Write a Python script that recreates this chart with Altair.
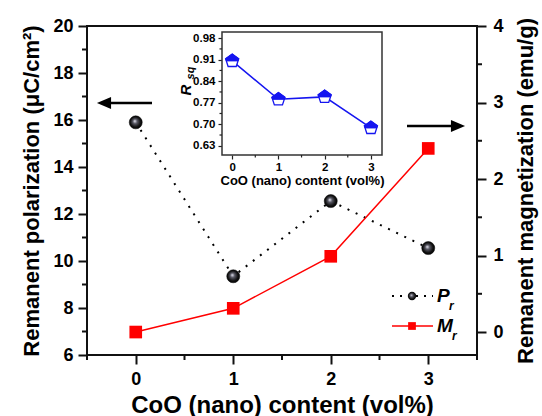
import altair as alt
import pandas as pd

# ---- data ----
coo = [0, 1, 2, 3]
pr = [15.9, 9.35, 12.55, 10.55]          # Remanent polarization (uC/cm2)
mr = [0.0, 0.31, 0.99, 2.40]             # Remanent magnetization (emu/g)
rsq = [0.906, 0.781, 0.789, 0.688]       # inset R_sq

x_ticks = [0, 1, 2, 3]
x_minor = [-0.5, 0.5, 1.5, 2.5, 3.5]
p_ticks = [6, 8, 10, 12, 14, 16, 18, 20]
p_minor = [7, 9, 11, 13, 15, 17, 19]
m_ticks = [0, 1, 2, 3, 4]
m_minor = [0.5, 1.5, 2.5, 3.5]
in_y_ticks = [0.63, 0.70, 0.77, 0.84, 0.91, 0.98]
in_y_minor = [0.665, 0.735, 0.805, 0.875, 0.945]
in_x_minor = [0.5, 1.5, 2.5]

FONT = "Liberation Sans"
W, H = 390, 329

df = pd.DataFrame({"x": coo, "pr": pr, "mr": mr, "rsq": rsq})

xs_main = alt.Scale(domain=[-0.5, 3.5], nice=False, zero=False)
ys_p = alt.Scale(domain=[6, 20], nice=False, zero=False)
ys_m = alt.Scale(domain=[-0.3, 4], nice=False, zero=False)
xs_in = alt.Scale(domain=[-0.22, 3.24], range=[135, 295], nice=False, zero=False)
ys_in = alt.Scale(domain=[0.6, 1.0], range=[129, 6], nice=False, zero=False)

base = alt.Chart(df)

x_axis_main = alt.Axis(orient="bottom", values=x_ticks, format="d", tickSize=9, tickWidth=2,
                       tickColor="#111", labelPadding=6, labelFontSize=18, labelFontWeight="bold",
                       title="CoO (nano) content (vol%)", titleFontSize=24, titleFontWeight="bold",
                       titlePadding=5, domain=False, grid=False)
y_axis_p = alt.Axis(orient="left", values=p_ticks, tickSize=9, tickWidth=2, tickColor="#111",
                    labelPadding=5, labelFontSize=18, labelFontWeight="bold",
                    title="Remanent polarization (\u03bcC/cm\u00b2)", titleFontSize=22,
                    titleFontWeight="bold", titlePadding=9, domain=False, grid=False)
y_axis_m = alt.Axis(orient="right", values=m_ticks, format="d", tickSize=9, tickWidth=2, tickColor="#111",
                    labelPadding=7, labelFontSize=18, labelFontWeight="bold",
                    title="Remanent magnetization (emu/g)", titleFontSize=22, titleAngle=270,
                    titleBaseline="top", titleFontWeight="bold", titlePadding=12,
                    domain=False, grid=False)

p_line = base.mark_line(color="black", strokeWidth=2, strokeDash=[2, 7]).encode(
    x=alt.X("x:Q", scale=xs_main, axis=x_axis_main),
    y=alt.Y("pr:Q", scale=ys_p, axis=y_axis_p),
)
sphere = {"gradient": "radial", "x1": 0.42, "y1": 0.4, "r1": 0.0, "x2": 0.5, "y2": 0.5, "r2": 0.55,
          "stops": [{"offset": 0, "color": "#f4f4ff"}, {"offset": 0.3, "color": "#5a5a66"},
                    {"offset": 0.7, "color": "#111111"}, {"offset": 1, "color": "#000000"}]}
p_pts = base.mark_point(shape="circle", filled=True, fill=sphere, size=170, opacity=1,
                        stroke="#000", strokeWidth=0.5).encode(
    x=alt.X("x:Q", scale=xs_main, axis=None),
    y=alt.Y("pr:Q", scale=ys_p, axis=None),
)
m_line = base.mark_line(color="#ff0000", strokeWidth=1.5).encode(
    x=alt.X("x:Q", scale=xs_main, axis=None),
    y=alt.Y("mr:Q", scale=ys_m, axis=y_axis_m),
)
m_pts = base.mark_square(color="#ff0000", size=160, opacity=1).encode(
    x=alt.X("x:Q", scale=xs_main, axis=None),
    y=alt.Y("mr:Q", scale=ys_m, axis=None),
)

# minor ticks
pminor = alt.Chart(pd.DataFrame({"v": p_minor})).mark_rule(color="#111", strokeWidth=2).encode(
    y=alt.Y("v:Q", scale=ys_p, axis=None), x=alt.value(-5), x2=alt.value(0))
mminor = alt.Chart(pd.DataFrame({"v": m_minor})).mark_rule(color="#111", strokeWidth=2).encode(
    y=alt.Y("v:Q", scale=ys_m, axis=None), x=alt.value(W), x2=alt.value(W + 5))
xminor = alt.Chart(pd.DataFrame({"v": x_minor})).mark_rule(color="#111", strokeWidth=2).encode(
    x=alt.X("v:Q", scale=xs_main, axis=None), y=alt.value(H), y2=alt.value(H + 5))

one = pd.DataFrame({"a": [0]})

# arrows
arr_l = alt.Chart(one).mark_rule(color="black", strokeWidth=2.5).encode(
    x=alt.value(18), x2=alt.value(65), y=alt.value(77))
head_l = alt.Chart(one).mark_point(
    shape="M-1,0L1,-0.85L1,0.85Z", filled=True, color="black", size=200, opacity=1).encode(
    x=alt.value(17), y=alt.value(77))
arr_r = alt.Chart(one).mark_rule(color="black", strokeWidth=2.5).encode(
    x=alt.value(320), x2=alt.value(370), y=alt.value(100))
head_r = alt.Chart(one).mark_point(
    shape="M1,0L-1,-0.85L-1,0.85Z", filled=True, color="black", size=200, opacity=1).encode(
    x=alt.value(371), y=alt.value(100))

# legend
leg_p_line = alt.Chart(one).mark_rule(color="black", strokeWidth=2, strokeDash=[2, 6]).encode(
    x=alt.value(305), x2=alt.value(346), y=alt.value(270))
leg_p_pt = alt.Chart(one).mark_point(shape="circle", filled=True, fill=sphere, size=70, opacity=1).encode(
    x=alt.value(325), y=alt.value(270))
leg_m_line = alt.Chart(one).mark_rule(color="#ff0000", strokeWidth=1.5).encode(
    x=alt.value(305), x2=alt.value(346), y=alt.value(300))
leg_m_pt = alt.Chart(one).mark_square(color="#ff0000", size=60, opacity=1).encode(
    x=alt.value(325), y=alt.value(300))


def txt(s, x, y, size, angle=0, style="italic", align="left"):
    kw = dict(text=s, font=FONT, fontSize=size, fontWeight="bold", fontStyle=style,
              align=align, baseline="middle", color="black")
    if angle:
        kw["angle"] = angle
    return alt.Chart(one).mark_text(**kw).encode(x=alt.value(x), y=alt.value(y))


leg_texts = [txt("P", 350, 270, 19), txt("r", 362, 280, 12),
             txt("M", 350, 300, 19), txt("r", 365, 310, 12)]

# inset
frame = alt.Chart(one).mark_rect(fill="white", stroke="#333", strokeWidth=1.5).encode(
    x=alt.value(135), x2=alt.value(295), y=alt.value(6), y2=alt.value(129))
in_x_axis = alt.Axis(orient="bottom", offset=-200, values=x_ticks, format="d", tickSize=4,
                     tickWidth=1.2, tickColor="#222", labelPadding=2, labelFontSize=11.5,
                     labelFontWeight="bold", title="CoO (nano) content (vol%)", titleFontSize=13,
                     titleFontWeight="bold", titlePadding=2, domain=False, grid=False)
in_y_axis = alt.Axis(orient="left", offset=-135, values=in_y_ticks, format=".2f", tickSize=4,
                     tickWidth=1.2, tickColor="#222", labelPadding=3, labelFontSize=11.5,
                     labelFontWeight="bold", title=None, domain=False, grid=False)
in_line = base.mark_line(color="#1515f0", strokeWidth=1.5).encode(
    x=alt.X("x:Q", scale=xs_in, axis=in_x_axis),
    y=alt.Y("rsq:Q", scale=ys_in, axis=in_y_axis),
)
PENT = "M0,-1L0.951,-0.309L0.588,0.809L-0.588,0.809L-0.951,-0.309Z"
PENT_TOP = "M0,-1L0.951,-0.309L0.851,0L-0.851,0L-0.951,-0.309Z"
in_pent = base.mark_point(shape=PENT, filled=True, fill="white", stroke="#1515f0",
                          strokeWidth=1.3, size=190, opacity=1).encode(
    x=alt.X("x:Q", scale=xs_in, axis=None),
    y=alt.Y("rsq:Q", scale=ys_in, axis=None),
)
in_pent_top = base.mark_point(shape=PENT_TOP, filled=True, fill="#1515f0", stroke="#1515f0",
                              strokeWidth=1.0, size=190, opacity=1).encode(
    x=alt.X("x:Q", scale=xs_in, axis=None),
    y=alt.Y("rsq:Q", scale=ys_in, axis=None),
)
in_yminor = alt.Chart(pd.DataFrame({"v": in_y_minor})).mark_rule(color="#222", strokeWidth=1.2).encode(
    y=alt.Y("v:Q", scale=ys_in, axis=None), x=alt.value(132.5), x2=alt.value(135))
in_xminor = alt.Chart(pd.DataFrame({"v": in_x_minor})).mark_rule(color="#222", strokeWidth=1.2).encode(
    x=alt.X("v:Q", scale=xs_in, axis=None), y=alt.value(129), y2=alt.value(131.5))
rsq_title = [txt("R", 99, 64, 15, angle=270, align="center"),
             txt("sq", 104, 47, 11, angle=270, align="center")]

layers = [p_line, m_line, xminor, pminor, mminor, frame, in_line, in_yminor, in_xminor,
          in_pent, in_pent_top, *rsq_title, arr_l, head_l, arr_r, head_r,
          leg_p_line, leg_p_pt, leg_m_line, leg_m_pt, *leg_texts, p_pts, m_pts]

chart = alt.layer(*layers).resolve_scale(
    x="independent", y="independent"
).resolve_axis(
    x="independent", y="independent"
).properties(
    width=W, height=H,
    autosize=alt.AutoSizeParams(type="none"),
    padding={"left": 87, "top": 26, "right": 65, "bottom": 61},
    background="white",
).configure_view(
    stroke="#111", strokeWidth=2
).configure_axis(
    labelFont=FONT, titleFont=FONT, labelColor="black", titleColor="black"
)

chart.save("out.html", embed_options={"renderer": "svg", "actions": False})
